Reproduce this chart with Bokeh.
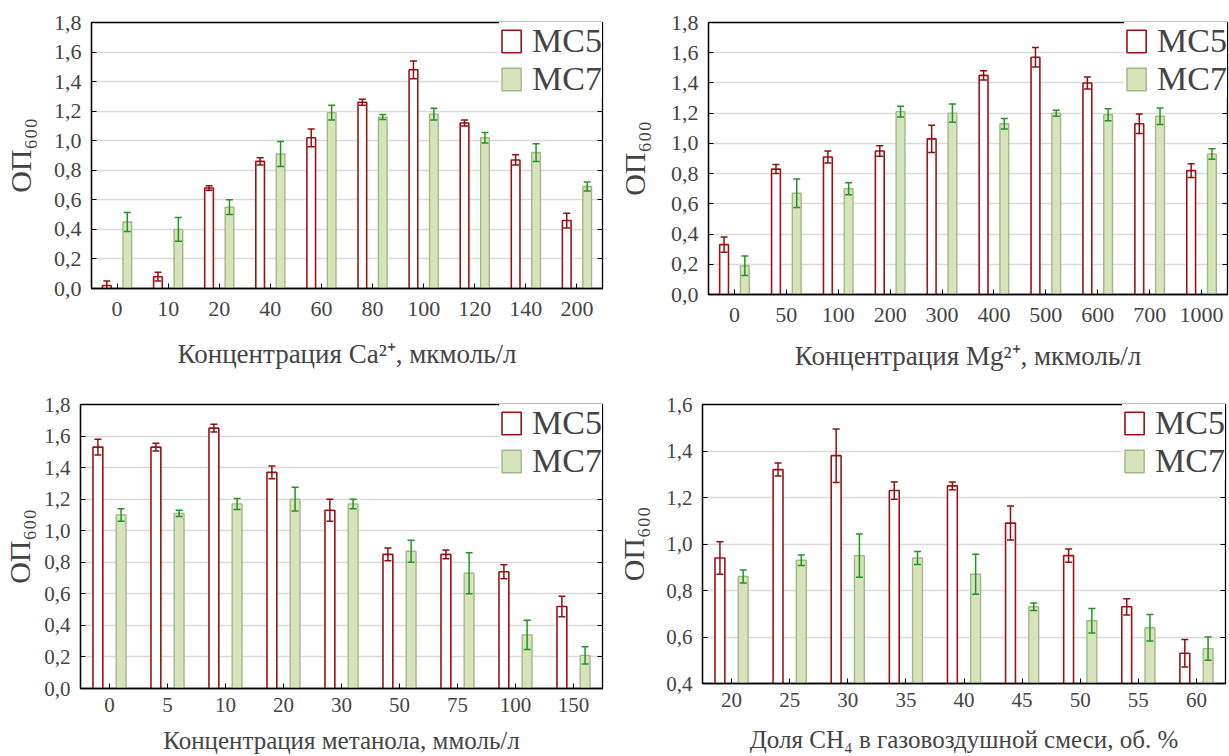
from bokeh.plotting import figure
from bokeh.models import (FactorRange, Range1d, ColumnDataSource, SingleIntervalTicker,
                          CustomJSTickFormatter, LinearAxis, Legend, LegendItem)
from bokeh.transform import dodge
from bokeh.layouts import column, row
from bokeh.embed import file_html
from bokeh.resources import INLINE

# ---------------- data ----------------
ca_cats = ["0", "10", "20", "40", "60", "80", "100", "120", "140", "200"]
ca_mc5 = [0.02, 0.08, 0.68, 0.86, 1.02, 1.26, 1.48, 1.12, 0.87, 0.46]
ca_mc5_err = [0.03, 0.03, 0.015, 0.025, 0.06, 0.02, 0.06, 0.02, 0.035, 0.05]
ca_mc7 = [0.45, 0.40, 0.55, 0.91, 1.19, 1.16, 1.18, 1.02, 0.92, 0.69]
ca_mc7_err = [0.065, 0.08, 0.05, 0.085, 0.05, 0.017, 0.04, 0.035, 0.06, 0.03]

mg_cats = ["0", "50", "100", "200", "300", "400", "500", "600", "700", "1000"]
mg_mc5 = [0.33, 0.83, 0.91, 0.95, 1.03, 1.45, 1.57, 1.40, 1.13, 0.82]
mg_mc5_err = [0.05, 0.03, 0.04, 0.035, 0.09, 0.03, 0.065, 0.04, 0.065, 0.045]
mg_mc7 = [0.19, 0.67, 0.70, 1.21, 1.20, 1.13, 1.20, 1.19, 1.18, 0.93]
mg_mc7_err = [0.065, 0.095, 0.04, 0.035, 0.06, 0.035, 0.02, 0.04, 0.055, 0.035]

me_cats = ["0", "5", "10", "20", "30", "50", "75", "100", "150"]
me_mc5 = [1.53, 1.53, 1.65, 1.37, 1.13, 0.85, 0.85, 0.74, 0.52]
me_mc5_err = [0.05, 0.025, 0.025, 0.04, 0.07, 0.04, 0.028, 0.045, 0.065]
me_mc7 = [1.10, 1.11, 1.17, 1.20, 1.17, 0.87, 0.73, 0.34, 0.21]
me_mc7_err = [0.04, 0.02, 0.035, 0.075, 0.03, 0.07, 0.13, 0.093, 0.055]

ch_cats = ["20", "25", "30", "35", "40", "45", "50", "55", "60"]
ch_mc5 = [0.94, 1.32, 1.38, 1.23, 1.25, 1.09, 0.95, 0.73, 0.53]
ch_mc5_err = [0.07, 0.028, 0.115, 0.037, 0.017, 0.073, 0.029, 0.035, 0.059]
ch_mc7 = [0.86, 0.93, 0.95, 0.94, 0.87, 0.73, 0.67, 0.64, 0.55]
ch_mc7_err = [0.028, 0.023, 0.093, 0.028, 0.086, 0.016, 0.053, 0.057, 0.05]

series_names = ["MC5", "MC7"]
y_label = "ОП₆₀₀"

FONT = "Liberation Serif"
RED = "#9a1414"
RED_ERR = "#8e1010"
GREEN_FILL = "#d6e3bb"
GREEN_LINE = "#a2b788"
GREEN_ERR = "#1f961f"


def panel(cats, v5, e5, v7, e7, ymin, ymax, xlabel, fw, fh, bl, br, bt, bb,
          tick_fs, title_fs, ylab_fs, ylab_standoff, tick_standoff, title_standoff):
    p = figure(x_range=FactorRange(*cats), y_range=Range1d(ymin, ymax),
               frame_width=fw, frame_height=fh,
               min_border_left=bl, min_border_right=br, min_border_top=bt, min_border_bottom=bb,
               output_backend="svg", toolbar_location=None)
    p.background_fill_color = "white"
    p.border_fill_color = "white"
    p.outline_line_color = "black"
    p.outline_line_width = 1.3

    src = ColumnDataSource(dict(
        cat=cats, v5=v5, v7=v7,
        lo5=[a - b for a, b in zip(v5, e5)], hi5=[a + b for a, b in zip(v5, e5)],
        lo7=[a - b for a, b in zip(v7, e7)], hi7=[a + b for a, b in zip(v7, e7)],
    ))
    x5 = dodge("cat", -0.2, range=p.x_range)
    x7 = dodge("cat", 0.2, range=p.x_range)

    r5 = p.vbar(x=x5, top="v5", bottom=ymin, width=0.17, source=src,
                fill_color="white", line_color=RED, line_width=1.6)
    r7 = p.vbar(x=x7, top="v7", bottom=ymin, width=0.17, source=src,
                fill_color=GREEN_FILL, line_color=GREEN_LINE, line_width=1.4)

    for xx, lo, hi, col in ((x5, "lo5", "hi5", RED_ERR), (x7, "lo7", "hi7", GREEN_ERR)):
        p.segment(x0=xx, y0=lo, x1=xx, y1=hi, source=src, line_color=col, line_width=1.5)
        p.scatter(x=xx, y=hi, marker="dash", size=7, source=src, line_color=col, line_width=1.5)
        p.scatter(x=xx, y=lo, marker="dash", size=7, source=src, line_color=col, line_width=1.5)

    ticker = SingleIntervalTicker(interval=0.2, num_minor_ticks=0)
    fmt = CustomJSTickFormatter(code="return tick.toFixed(1).replace('.', ',');")

    ya = p.yaxis[0]
    ya.ticker = ticker
    ya.formatter = fmt
    ya.axis_label = y_label
    ya.axis_label_text_font = FONT
    ya.axis_label_text_font_style = "normal"
    ya.axis_label_text_font_size = ylab_fs
    ya.axis_label_standoff = ylab_standoff
    ya.major_label_text_font = FONT
    ya.major_label_text_font_size = tick_fs
    ya.major_label_standoff = 10
    ya.major_tick_in = 5
    ya.major_tick_out = 0
    ya.minor_tick_line_color = None
    ya.axis_line_color = "black"
    ya.axis_line_width = 1.3

    xa = p.xaxis[0]
    xa.axis_label = xlabel
    xa.axis_label_text_font = FONT
    xa.axis_label_text_font_style = "normal"
    xa.axis_label_text_font_size = title_fs
    xa.axis_label_standoff = title_standoff
    xa.major_label_text_font = FONT
    xa.major_label_text_font_size = tick_fs
    xa.major_label_standoff = tick_standoff
    xa.major_tick_in = 5
    xa.major_tick_out = 0
    xa.axis_line_color = "black"
    xa.axis_line_width = 1.3

    blank = CustomJSTickFormatter(code="return '';")
    ra = LinearAxis(ticker=ticker, formatter=blank, major_label_standoff=0,
                    major_tick_in=5, major_tick_out=0, minor_tick_line_color=None,
                    axis_line_color=None)
    p.add_layout(ra, "right")

    p.xgrid.grid_line_color = None
    p.ygrid.grid_line_color = "#dadada"
    p.ygrid.grid_line_width = 1.5
    p.ygrid.ticker = ticker

    leg = Legend(items=[LegendItem(label=series_names[0], renderers=[r5]),
                        LegendItem(label=series_names[1], renderers=[r7])],
                 location="top_right", label_text_font=FONT, label_text_font_size="34px",
                 glyph_width=24, glyph_height=28, label_standoff=9, spacing=0,
                 padding=6, margin=0, border_line_color=None,
                 background_fill_color="white", background_fill_alpha=1.0)
    p.add_layout(leg)
    return p


p1 = panel(ca_cats, ca_mc5, ca_mc5_err, ca_mc7, ca_mc7_err, 0.0, 1.8,
           "Концентрация Ca²⁺, мкмоль/л",
           fw=511, fh=266, bl=90, br=9, bt=22, bb=92,
           tick_fs="22px", title_fs="27px", ylab_fs="30px", ylab_standoff=14,
           tick_standoff=13, title_standoff=20)
p2 = panel(mg_cats, mg_mc5, mg_mc5_err, mg_mc7, mg_mc7_err, 0.0, 1.8,
           "Концентрация Mg²⁺, мкмоль/л",
           fw=519, fh=272, bl=97, br=2, bt=21, bb=87,
           tick_fs="22px", title_fs="27px", ylab_fs="30px", ylab_standoff=17,
           tick_standoff=13, title_standoff=16)
p3 = panel(me_cats, me_mc5, me_mc5_err, me_mc7, me_mc7_err, 0.0, 1.8,
           "Концентрация метанола, ммоль/л",
           fw=522, fh=284, bl=79, br=9, bt=23, bb=67,
           tick_fs="21px", title_fs="25px", ylab_fs="30px", ylab_standoff=5,
           tick_standoff=9, title_standoff=12)
p4 = panel(ch_cats, ch_mc5, ch_mc5_err, ch_mc7, ch_mc7_err, 0.4, 1.6,
           "Доля CH₄ в газовоздушной смеси, об. %",
           fw=523, fh=279, bl=91, br=2, bt=24, bb=71,
           tick_fs="21px", title_fs="25px", ylab_fs="30px", ylab_standoff=13,
           tick_standoff=9, title_standoff=16)

layout = column(row(p1, p2), row(p3, p4))
open("out.html", "w").write(file_html(layout, INLINE))
